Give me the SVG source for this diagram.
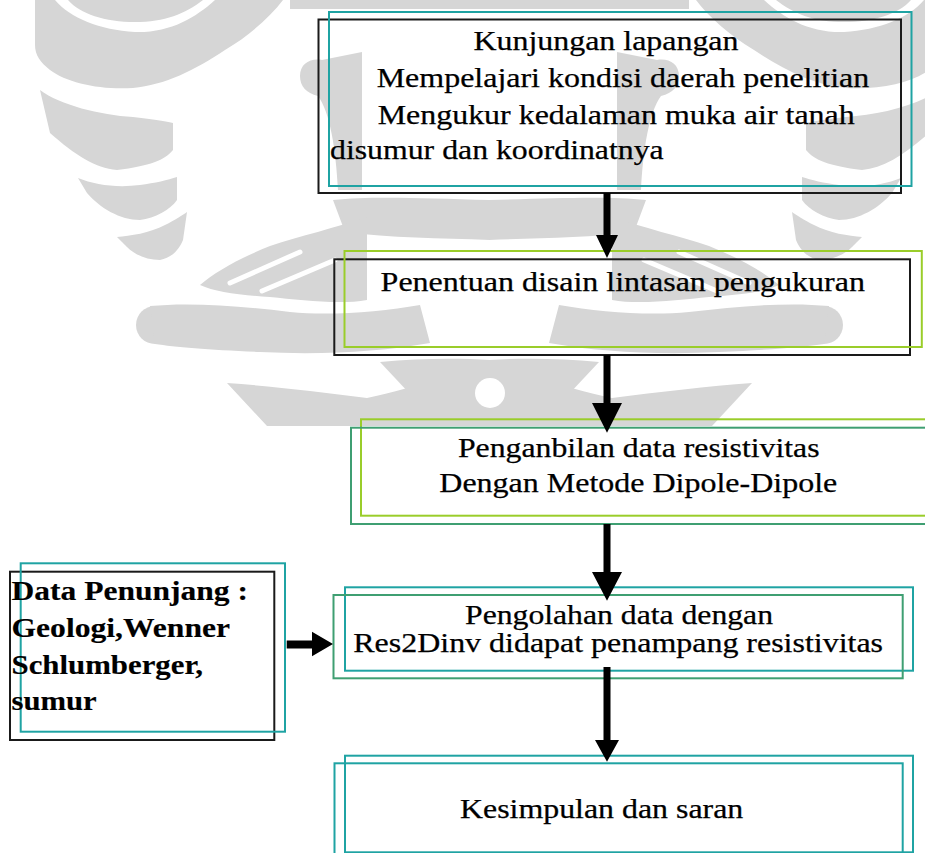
<svg xmlns="http://www.w3.org/2000/svg" width="925" height="853" viewBox="0 0 925 853" font-family="'Liberation Serif', 'Times New Roman', Times, serif">
<style>
  text { font-size: 26.5px; fill: #000; stroke: #000; stroke-width: 0.25; }
  .b { font-weight: bold; stroke-width: 0.15; }
  .k { fill: none; stroke: #1a1a1a; stroke-width: 2; }
  .teal { fill: none; stroke: #1fa3a3; stroke-width: 2; }
  .lime { fill: none; stroke: #9acd2a; stroke-width: 2; }
  .sea { fill: none; stroke: #3f9f72; stroke-width: 2; }
  .arr { fill: #000; stroke: none; }
  .wm { fill: #d6d6d6; stroke: none; }
  .wg { fill: #ffffff; stroke: none; }
  .ws { fill: none; stroke: #ffffff; stroke-width: 5; stroke-linecap: round; }
</style>
<rect width="925" height="853" fill="#fff"/>

<g id="watermark">
  <g id="wm-left">
    <path class="wm" d="M35,0 L283,0 C270,17 250,35 225,50 C195,70 165,85 133,88 C100,90 67,83 50,70 C40,62 35,55 35,45 Z"/>
    <path class="wg" d="M55,0 C70,18 100,30 135,32 C170,33 195,18 215,0 L203,0 C185,14 165,22 135,22 C105,22 80,14 68,0 Z"/>
    <path class="wm" d="M40,90 C60,105 100,115 133,117 C150,119 165,121 173,123 L173,150 C165,160 150,166 117,170 C95,168 75,155 50,133 Z"/>
    <path class="wm" d="M78,178 C95,185 117,188 140,185 C155,183 168,180 177,177 L177,200 C170,210 155,218 140,220 C120,220 100,208 87,193 Z"/>
    <path class="wm" d="M117,237 C130,236 150,233 165,225 C175,220 183,215 187,212 L183,240 C178,252 170,258 160,260 C147,260 135,255 127,247 Z"/>
    <path class="wm" d="M300,76 C300,64 310,58 322,60 L362,52 L362,190 L338,190 C336,150 330,112 318,96 C306,93 300,86 300,76 Z"/>
    <rect class="wm" x="290" y="0" width="200" height="9"/>
    <path class="wm" d="M333,200 C370,196 420,198 490,200 L490,240 C440,238 390,238 345,232 Z"/>
    <path class="wm" d="M200,285 C215,272 240,258 270,246 C300,236 335,228 367,217 L367,300 C340,305 300,300 270,297 C240,295 215,292 200,285 Z"/>
    <path class="ws" d="M230,283 L300,252"/>
    <path class="ws" d="M262,291 L335,260"/>
    <circle class="wm" cx="155" cy="325" r="19"/>
    <circle class="wg" cx="168" cy="330" r="6"/>
    <path class="wm" d="M150,306 C190,302 240,306 290,312 C330,316 380,312 420,305 L430,343 C380,352 320,355 260,352 C210,350 175,347 155,344 Z"/>
    <path class="wm" d="M227,383 C270,386 320,392 367,398 C395,392 415,386 433,380 L440,426 L267,426 Z"/>
    <path class="wm" d="M380,362 C420,358 460,358 490,360 L490,426 L440,426 Z"/>
  </g>
  <use href="#wm-left" transform="translate(979,0) scale(-1,1)"/>
  <circle class="wg" cx="490" cy="393" r="15"/>
</g>

<g id="n1">
  <rect class="k" x="318.5" y="19.5" width="582.5" height="173.5"/>
  <rect class="teal" x="329" y="12" width="582.5" height="174"/>
  <text x="473.5" y="50" textLength="265" lengthAdjust="spacingAndGlyphs">Kunjungan lapangan</text>
  <text x="376.7" y="87.3" textLength="492.6" lengthAdjust="spacingAndGlyphs">Mempelajari kondisi daerah penelitian</text>
  <text x="377.7" y="124" textLength="477" lengthAdjust="spacingAndGlyphs">Mengukur kedalaman muka air tanah</text>
  <text x="330" y="158.5" textLength="333.7" lengthAdjust="spacingAndGlyphs">disumur dan koordinatnya</text>
</g>

<g id="n2">
  <rect class="k" x="334.3" y="259.3" width="575.7" height="95.7"/>
  <rect class="lime" x="344.5" y="251" width="577.3" height="96"/>
  <text x="380.6" y="290.7" textLength="484.3" lengthAdjust="spacingAndGlyphs">Penentuan disain lintasan pengukuran</text>
</g>

<g id="n3">
  <rect class="lime" x="361" y="419.3" width="600" height="96.4"/>
  <rect class="sea" x="351" y="427.7" width="610" height="96.3"/>
  <text x="457.9" y="456.7" textLength="361.7" lengthAdjust="spacingAndGlyphs">Penganbilan data resistivitas</text>
  <text x="439.3" y="492" textLength="398" lengthAdjust="spacingAndGlyphs">Dengan Metode Dipole-Dipole</text>
</g>

<g id="n4">
  <rect class="teal" x="345" y="587.3" width="568" height="83.4"/>
  <rect class="sea" x="333.5" y="595" width="569.2" height="83.3"/>
  <text x="465" y="624" textLength="308" lengthAdjust="spacingAndGlyphs">Pengolahan data dengan</text>
  <text x="353.3" y="652.3" textLength="529.7" lengthAdjust="spacingAndGlyphs">Res2Dinv didapat penampang resistivitas</text>
</g>

<g id="n5">
  <rect class="teal" x="345" y="755.7" width="568" height="96.6"/>
  <rect class="teal" x="334.5" y="763.3" width="568.2" height="100"/>
  <text x="460" y="818.3" textLength="283.3" lengthAdjust="spacingAndGlyphs">Kesimpulan dan saran</text>
</g>

<g id="n6">
  <rect class="k" x="10" y="571.7" width="264.3" height="168.3"/>
  <rect class="teal" x="20.7" y="563.3" width="264.3" height="168.4"/>
  <text class="b" x="11.5" y="600" textLength="236.5" lengthAdjust="spacingAndGlyphs">Data Penunjang :</text>
  <text class="b" x="11.5" y="637.3" textLength="218.5" lengthAdjust="spacingAndGlyphs">Geologi,Wenner</text>
  <text class="b" x="11.5" y="674" textLength="191.5" lengthAdjust="spacingAndGlyphs">Schlumberger,</text>
  <text class="b" x="11.5" y="710" textLength="85.2" lengthAdjust="spacingAndGlyphs">sumur</text>
</g>

<g id="connectors">
  <path class="arr" d="M603.5,193 H610.5 V235 H618 L607,258 L596,235 H603.5 Z"/>
  <path class="arr" d="M603.5,355 H610.5 V403 H622 L607,432.7 L592,403 H603.5 Z"/>
  <path class="arr" d="M603.5,524 H610.5 V572 H622 L607,600.7 L592,572 H603.5 Z"/>
  <path class="arr" d="M603.5,667 H610.5 V740 H619 L607,761.7 L595,740 H603.5 Z"/>
  <path class="arr" d="M286.7,640.5 H312 V631.7 L333,644 L312,656.3 V648.5 H286.7 Z"/>
</g>
</svg>
